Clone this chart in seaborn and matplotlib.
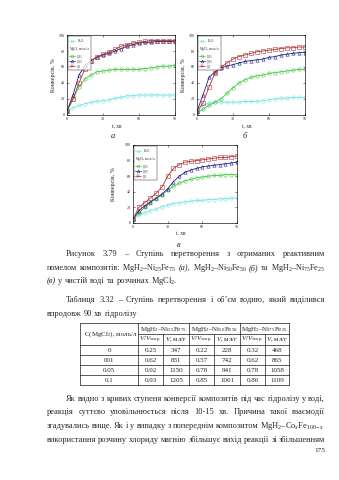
import numpy as np
import pandas as pd
import matplotlib
matplotlib.use("Agg")
import matplotlib.pyplot as plt
import seaborn as sns
from matplotlib.lines import Line2D

sns.set_theme(style="white")
SERIF = "Liberation Serif"
plt.rcParams["font.family"] = [SERIF, "DejaVu Serif"]
plt.rcParams["mathtext.fontset"] = "custom"
plt.rcParams["mathtext.rm"] = SERIF
plt.rcParams["mathtext.it"] = SERIF + ":italic"
plt.rcParams["mathtext.bf"] = SERIF + ":bold"

# ---------------- data ----------------
t_min = [0, 5, 10, 15, 20, 25, 30, 35, 40, 45, 50, 55, 60, 65, 70, 75, 80, 85, 90]
series_labels = ["H$_2$O", "0,01", "0,05", "0,1"]

# (a) MgH2-Ni25Fe75
a_h2o = [5, 9, 12, 14, 16, 17, 18, 19, 21, 22, 24, 24, 25, 25, 25, 25, 25, 25, 25]
a_001 = [5, 20, 35, 45, 50, 54, 55, 56, 57, 57, 57, 57, 57, 58, 59, 60, 61, 61, 62]
a_005 = [5, 25, 50, 62, 68, 72, 75, 77, 80, 83, 86, 88, 90, 91, 91, 92, 92, 92, 92]
a_01 = [5, 20, 40, 58, 68, 73, 76, 79, 82, 86, 88, 90, 91, 92, 93, 93, 93, 93, 93]
# (б) MgH2-Ni50Fe50
b_h2o = [5, 12, 15, 16, 16, 16, 16, 16, 17, 17, 17, 18, 19, 20, 21, 21, 22, 22, 22]
b_001 = [3, 7, 12, 16, 20, 27, 34, 40, 44, 47, 49, 50, 52, 53, 54, 55, 56, 57, 57]
b_005 = [5, 25, 47, 54, 59, 61, 63, 65, 67, 68, 69, 70, 72, 73, 75, 76, 77, 78, 78]
b_01 = [5, 15, 35, 52, 60, 65, 70, 73, 75, 77, 79, 80, 81, 82, 83, 84, 84, 85, 85]
# (в) MgH2-Ni75Fe25
c_h2o = [5, 10, 13, 16, 18, 21, 23, 25, 26, 27, 28, 29, 29, 30, 30, 31, 31, 32, 32]
c_001 = [5, 13, 20, 26, 31, 36, 42, 47, 51, 54, 56, 58, 59, 60, 61, 61, 62, 62, 62]
c_005 = [5, 16, 22, 27, 32, 37, 44, 53, 60, 65, 68, 70, 72, 73, 74, 75, 76, 77, 78]
c_01 = [5, 20, 26, 32, 38, 46, 60, 70, 75, 78, 79, 80, 81, 82, 83, 84, 84, 85, 86]

# table
tbl_conc = ["0", "001", "0.05", "0.1"]
tbl_a_ratio = ["0.25", "0.62", "0.92", "0.93"]
tbl_a_vol = ["347", "831", "1150", "1205"]
tbl_b_ratio = ["0.22", "0.57", "0.78", "0.85"]
tbl_b_vol = ["228", "742", "941", "1061"]
tbl_c_ratio = ["0.32", "0.62", "0.78", "0.86"]
tbl_c_vol = ["468", "865", "1058", "1109"]
tbl_heads = ["MgH$_2$–Ni$_{25}$Fe$_{75}$", "MgH$_2$–Ni$_{50}$Fe$_{50}$", "MgH$_2$–Ni$_{75}$Fe$_{25}$"]

colors = ["#6fe3e3", "#3cc83c", "#1e1e8a", "#b03030"]
markers = ["o", "o", "^", "s"]

W, H = 339, 480
fig = plt.figure(figsize=(W / 100, H / 100), dpi=100)
fig.patch.set_facecolor("white")

ov = fig.add_axes([0, 0, 1, 1])
ov.set_xlim(0, W)
ov.set_ylim(H, 0)
ov.axis("off")


def ax_px(l, t, r, b):
    return fig.add_axes([l / W, 1 - b / H, (r - l) / W, (b - t) / H])


def draw_chart(ax, data, sub, sub_xy, ylab_x, tlab_y):
    for i, vals in enumerate(data):
        df = pd.DataFrame({"t": t_min, "conv": vals})
        sns.lineplot(data=df, x="t", y="conv", ax=ax, color=colors[i],
                     marker=markers[i], markersize=2.4, mfc="none",
                     mec=colors[i], mew=0.4, lw=0.6, legend=False)
    ax.set_xlim(0, 90)
    ax.set_ylim(0, 100)
    ax.set_xticks([0, 30, 60, 90])
    ax.set_yticks([0, 20, 40, 60, 80, 100])
    ax.tick_params(direction="in", length=1.3, width=0.4, labelsize=3.0, pad=1.5,
                   top=True, right=True, bottom=True, left=True,
                   labeltop=False, labelright=False)
    for s in ax.spines.values():
        s.set_linewidth(0.45)
        s.set_color("black")
    ax.set_xlabel("")
    ax.set_ylabel("")
    bb = ax.get_position()
    l = bb.x0 * W
    r = bb.x1 * W
    t = (1 - bb.y1) * H
    b = (1 - bb.y0) * H
    ov.text((l + r) / 2 - 4, tlab_y, "t, хв", fontsize=4.0, ha="center", va="center")
    ov.text(ylab_x, (t + b) / 2, "Конверсія, %", fontsize=4.3, rotation=90,
            ha="center", va="center")
    ov.text(sub_xy[0], sub_xy[1], sub, fontsize=6, style="italic", ha="center", va="center")

    def h(i):
        return Line2D([], [], color=colors[i], marker=markers[i], mfc="none",
                      mec=colors[i], mew=0.35, ms=2.0, lw=0.5)
    handles = [h(0), Line2D([], [], linestyle="none"), h(1), h(2), h(3)]
    labels = [series_labels[0], "MgCl$_2$ моль/л", series_labels[1],
              series_labels[2], series_labels[3]]
    leg = ax.legend(handles, labels, loc="upper left", fontsize=2.3, frameon=True,
                    fancybox=False, handlelength=2.0, handletextpad=0.5,
                    borderpad=0.35, labelspacing=0.3, borderaxespad=0.25)
    leg.get_frame().set_edgecolor("black")
    leg.get_frame().set_linewidth(0.35)
    # header row: drop its (empty) handle so the text starts at the left edge
    try:
        col = leg._legend_handle_box.get_children()[0]
        hp = col.get_children()[1]
        hp._children = [c for c in hp._children if c is not hp._children[0]]
    except Exception:
        pass


axA = ax_px(67, 35, 175, 115)
draw_chart(axA, [a_h2o, a_001, a_005, a_01], "а", (113, 136), 53, 127)
axB = ax_px(197, 35, 305, 115)
draw_chart(axB, [b_h2o, b_001, b_005, b_01], "б", (245, 136), 183, 127)
axC = ax_px(133, 145, 237, 223)
draw_chart(axC, [c_h2o, c_001, c_005, c_01], "в", (179, 245), 114, 234)

# ---------------- text ----------------
FS = 6.0
renderer = fig.canvas.get_renderer()


def _split(w):
    if isinstance(w, tuple):
        return w
    return w, {}


def justify(words, y, x0, x1, size=FS, min_gap=1.4):
    while True:
        objs = []
        for w in words:
            s, kw = _split(w)
            objs.append(ov.text(0, y, s, fontsize=size, va="center", ha="left", **kw))
        widths = [o.get_window_extent(renderer).width for o in objs]
        gap = (x1 - x0 - sum(widths)) / max(len(objs) - 1, 1)
        if gap >= min_gap or size < 4:
            break
        for o in objs:
            o.remove()
        size -= 0.1
    x = x0
    for o, w in zip(objs, widths):
        o.set_x(x)
        x += w + gap


def left(words, x, y, size=FS):
    a1 = ov.text(0, y, "a a", fontsize=size)
    a2 = ov.text(0, y, "aa", fontsize=size)
    spw = a1.get_window_extent(renderer).width - a2.get_window_extent(renderer).width
    a1.remove()
    a2.remove()
    for w in words:
        s, kw = _split(w)
        o = ov.text(x, y, s, fontsize=size, va="center", ha="left", **kw)
        x += o.get_window_extent(renderer).width + spw


L, R, IND = 47, 325, 66
IT = {"style": "italic"}

justify(["Рисунок", "3.79", "–", "Ступінь", "перетворення", "з", "отриманих", "реактивним"], 254, IND, R)
justify(["помелом", "композитів:", "MgH$_2$–Ni$_{25}$Fe$_{75}$", ("(а),", IT),
         "MgH$_2$–Ni$_{50}$Fe$_{50}$", ("(б)", IT), "та", "MgH$_2$–Ni$_{75}$Fe$_{25}$"], 268, L, R)
left([("(в)", IT), "у", "чистій", "воді", "та", "розчинах", "MgCl$_2$."], L, 281)

justify(["Таблиця", "3.32", "–", "Ступінь", "перетворення", "і", "об’єм", "водню,", "який", "виділився"], 300, IND, R)
left(["впродовж", "90", "хв", "гідролізу"], L, 314)

justify(["Як", "видно", "з", "кривих", "ступеня", "конверсії", "композитів", "під", "час", "гідролізу", "у", "воді,"], 399, IND, R)
justify(["реакція", "суттєво", "уповільнюється", "після", "10-15", "хв.", "Причина", "такої", "взаємодії"], 412, L, R)
justify(["згадувались", "вище.", "Як", "і", "у", "випадку", "з", "попереднім", "композитом",
         "MgH$_2$–Co$_x$Fe$_{100-x}$"], 426, L, R)
justify(["використання", "розчину", "хлориду", "магнію", "збільшує", "вихід", "реакції", "зі", "збільшенням"], 440, L, R)
ov.text(R, 450, "175", fontsize=5.2, ha="right", va="center")

# ---------------- table ----------------
cols = [80, 138, 163, 189, 214, 240, 265, 289]
rows = [323, 334, 345, 355, 365, 375, 385]
LW = 0.45
ov.plot([cols[0], cols[-1]], [rows[0], rows[0]], color="black", lw=LW)
ov.plot([cols[1], cols[-1]], [rows[1], rows[1]], color="black", lw=LW)
for yy in rows[2:]:
    ov.plot([cols[0], cols[-1]], [yy, yy], color="black", lw=LW)
for xx in [cols[0], cols[1], cols[3], cols[5], cols[7]]:
    ov.plot([xx, xx], [rows[0], rows[-1]], color="black", lw=LW)
for xx in [cols[2], cols[4], cols[6]]:
    ov.plot([xx, xx], [rows[1], rows[-1]], color="black", lw=LW)

TFS = 5.0
ov.text(84, (rows[0] + rows[2]) / 2, "C(MgCl$_2$), моль/л", fontsize=TFS, ha="left", va="center")
for k, hd in enumerate(tbl_heads):
    cx = (cols[1 + 2 * k] + cols[3 + 2 * k]) / 2
    ov.text(cx, (rows[0] + rows[1]) / 2 + 0.5, hd, fontsize=TFS, ha="center", va="center")
    ov.text((cols[1 + 2 * k] + cols[2 + 2 * k]) / 2, (rows[1] + rows[2]) / 2 + 0.5,
            "$V/V_{\\mathrm{теор.}}$", fontsize=TFS, ha="center", va="center")
    ov.text((cols[2 + 2 * k] + cols[3 + 2 * k]) / 2, (rows[1] + rows[2]) / 2 + 0.5,
            "$V$, мл/г", fontsize=TFS, ha="center", va="center")

tbl_cols = [tbl_conc, tbl_a_ratio, tbl_a_vol, tbl_b_ratio, tbl_b_vol, tbl_c_ratio, tbl_c_vol]
for j, colvals in enumerate(tbl_cols):
    cx = (cols[j] + cols[j + 1]) / 2
    for i, v in enumerate(colvals):
        ov.text(cx, (rows[2 + i] + rows[3 + i]) / 2 + 0.3, v, fontsize=TFS, ha="center", va="center")

fig.savefig("out.png", dpi=100, facecolor="white")
